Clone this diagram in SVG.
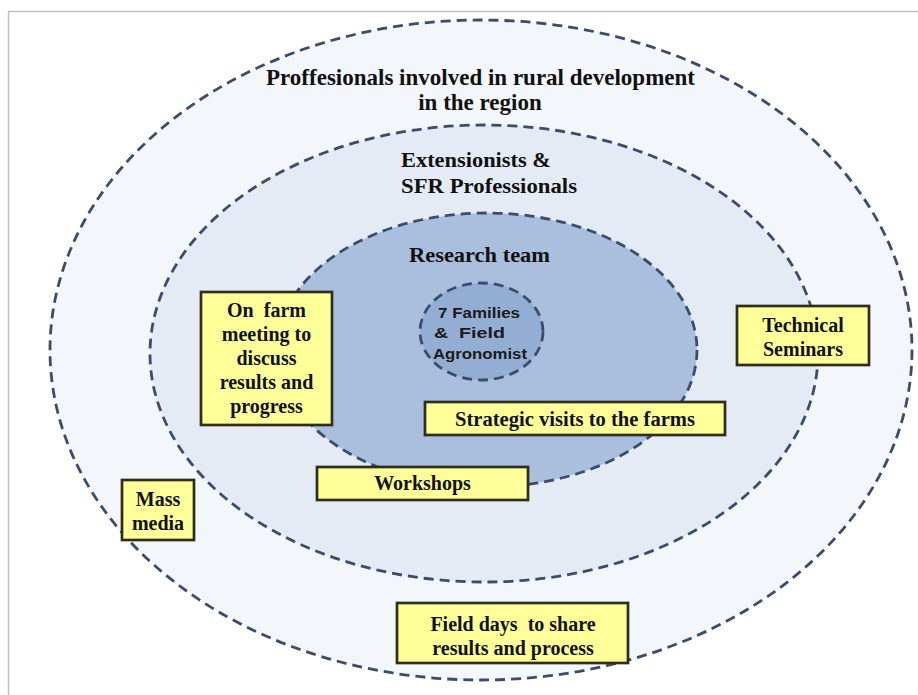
<svg xmlns="http://www.w3.org/2000/svg" width="918" height="695" viewBox="0 0 918 695">
<style>
.ring{stroke:#3a4d6c;stroke-width:2.8;stroke-dasharray:10 6;}
.box{fill:#ffff99;stroke:#2e2e1c;stroke-width:2.7;}
.lbl{font-family:"Liberation Serif","Times New Roman",serif;font-weight:bold;fill:#111;}
.big{font-size:22px;}
.bt{font-size:20px;text-anchor:middle;}
.sans{font-family:"Liberation Sans",Arial,sans-serif;font-weight:bold;font-size:14.5px;fill:#1a1a1a;}
</style>
<rect x="0" y="0" width="918" height="695" fill="#ffffff"/>
<g id="frame" stroke="#c0c0c0" stroke-width="1.5" fill="none">
<line x1="8" y1="11.5" x2="918" y2="11.5"/>
<line x1="8.5" y1="11" x2="8.5" y2="695"/>
</g>
<g id="outer">
<ellipse class="ring" cx="481" cy="350" rx="431" ry="330" fill="#f3f6fb"/>
<text class="lbl" x="480.5" y="85" font-size="23" text-anchor="middle" textLength="429" lengthAdjust="spacingAndGlyphs">Proffesionals involved in rural development</text>
<text class="lbl" x="480" y="110" font-size="23" text-anchor="middle">in the region</text>
</g>
<g id="middle">
<ellipse class="ring" cx="484" cy="353.5" rx="334" ry="228.5" fill="#e4ebf4"/>
<text class="lbl big" x="401" y="167" textLength="150" lengthAdjust="spacingAndGlyphs">Extensionists &amp;</text>
<text class="lbl big" x="401" y="193" textLength="176" lengthAdjust="spacingAndGlyphs">SFR Professionals</text>
</g>
<g id="research">
<ellipse class="ring" cx="487" cy="350" rx="210" ry="137" fill="#a9bfdd"/>
<text class="lbl big" x="409" y="262" textLength="141" lengthAdjust="spacingAndGlyphs">Research team</text>
</g>
<g id="families">
<ellipse class="ring" cx="481.5" cy="331.5" rx="61.5" ry="48.5" fill="#94aed3"/>
<text class="sans" x="438" y="318" textLength="82" lengthAdjust="spacingAndGlyphs">7 Families</text>
<text class="sans" x="434" y="338" textLength="71" lengthAdjust="spacingAndGlyphs" xml:space="preserve">&amp;  Field</text>
<text class="sans" x="433" y="359" textLength="94" lengthAdjust="spacingAndGlyphs">Agronomist</text>
</g>
<g id="connectors"></g>
<g id="onfarm">
<rect class="box" x="201" y="292" width="131" height="133"/>
<text class="lbl bt" x="266.5" y="317" xml:space="preserve">On  farm</text>
<text class="lbl bt" x="266.5" y="341">meeting to</text>
<text class="lbl bt" x="266.5" y="365">discuss</text>
<text class="lbl bt" x="266.5" y="389">results and</text>
<text class="lbl bt" x="266.5" y="413">progress</text>
</g>
<g id="strategic">
<rect class="box" x="425" y="402" width="300" height="33"/>
<text class="lbl bt" x="575" y="426" font-size="21" textLength="240" lengthAdjust="spacingAndGlyphs">Strategic visits to the farms</text>
</g>
<g id="workshops">
<rect class="box" x="317" y="467" width="211" height="33"/>
<text class="lbl bt" x="422.5" y="490">Workshops</text>
</g>
<g id="technical">
<rect class="box" x="737" y="306" width="132" height="59"/>
<text class="lbl bt" x="803" y="332">Technical</text>
<text class="lbl bt" x="803" y="356">Seminars</text>
</g>
<g id="massmedia">
<rect class="box" x="122" y="480" width="72" height="60"/>
<text class="lbl bt" x="158" y="506">Mass</text>
<text class="lbl bt" x="158" y="530">media</text>
</g>
<g id="fielddays">
<rect class="box" x="397" y="603" width="231" height="60"/>
<text class="lbl bt" x="513" y="631" font-size="20.5" xml:space="preserve">Field days  to share</text>
<text class="lbl bt" x="513" y="655" font-size="20.5">results and process</text>
</g>
</svg>
